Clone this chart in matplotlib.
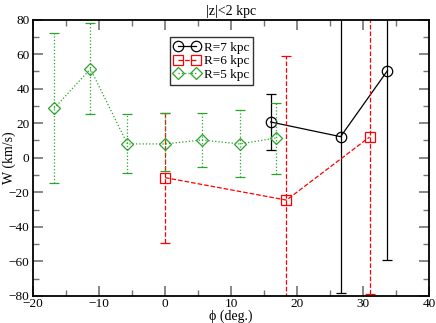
import numpy as np
import matplotlib
matplotlib.use("Agg")
import matplotlib.pyplot as plt
from matplotlib.ticker import MultipleLocator

plt.rcParams["font.family"] = ["Liberation Serif", "DejaVu Serif"]

# R=7 kpc
phi7 = [16.0, 26.6, 33.7]
w7 = [20.7, 12.2, 50.4]
lo7 = [4.3, -78.0, -59.4]
hi7 = [37.1, 140.0, 140.0]

# R=6 kpc
phi6 = [0.0, 18.4, 31.0]
w6 = [-11.5, -24.5, 12.0]
lo6 = [-49.2, -140.0, -79.0]
hi6 = [25.7, 59.0, 140.0]

# R=5 kpc
phi5 = [-16.8, -11.3, -5.7, 0.0, 5.6, 11.3, 16.8]
w5 = [28.6, 51.4, 8.0, 8.0, 10.3, 8.0, 11.4]
lo5 = [-14.4, 25.1, -9.0, -7.7, -5.5, -11.3, -9.4]
hi5 = [72.0, 77.8, 25.1, 26.0, 26.0, 27.6, 31.5]

GREEN = "#2aa52a"

fig = plt.figure(figsize=(4.36, 3.23), dpi=100)
ax = fig.add_axes([0.0757, 0.0836, 0.9083, 0.856])

series = [
    (phi7, w7, lo7, hi7, "black", "-", "o", "R=7 kpc"),
    (phi6, w6, lo6, hi6, "red", "--", "s", "R=6 kpc"),
    (phi5, w5, lo5, hi5, GREEN, ":", "D", "R=5 kpc"),
]

handles = []
for x, y, lo, hi, c, ls, mk, lab in series:
    y = np.array(y)
    yerr = [y - np.array(lo), np.array(hi) - y]
    ms = 6 if mk == "D" else 7.5
    eb = ax.errorbar(x, y, yerr=yerr, fmt="none", ecolor=c, elinewidth=0.9,
                     capsize=3.5, capthick=0.9)
    for bar in eb[2]:
        bar.set_linestyle(ls)
    ln, = ax.plot(x, y, color=c, ls=ls, lw=0.9, marker=mk, ms=ms,
                  mfc="none", mec=c, mew=0.9, label=lab)
    handles.append(ln)

ax.set_xlim(-20, 40)
ax.set_ylim(-80, 80)
ax.xaxis.set_major_locator(MultipleLocator(10))
ax.xaxis.set_minor_locator(MultipleLocator(5))
ax.yaxis.set_major_locator(MultipleLocator(20))
ax.yaxis.set_minor_locator(MultipleLocator(10))
ax.tick_params(which="both", direction="in", top=True, right=True,
               labelsize=9.5, color="0.45", pad=2.5)
ax.tick_params(axis="x", which="both", pad=1.5)
ax.tick_params(which="major", length=7, width=1.2)
ax.tick_params(which="minor", length=4, width=1.0)
for s in ax.spines.values():
    s.set_linewidth(1.3)

fig.text(231 / 436, 1 - 316 / 323, "ϕ (deg.)", fontsize=10,
         ha="center", va="center")
fig.text(9 / 436, 1 - 158 / 323, "W (km/s)", fontsize=10, rotation=90,
         ha="center", va="center")
ax.set_title("|z|<2 kpc", fontsize=10, pad=3)

leg = ax.legend(handles=handles, loc="upper left", bbox_to_anchor=(0.345, 0.935),
                fontsize=9.5, frameon=True, fancybox=False, numpoints=2,
                handlelength=2.0, borderpad=0.3, labelspacing=0.1,
                handletextpad=0.3, borderaxespad=0)
leg.get_frame().set_edgecolor("black")
leg.get_frame().set_linewidth(1.0)

fig.savefig("out.png", dpi=100)
